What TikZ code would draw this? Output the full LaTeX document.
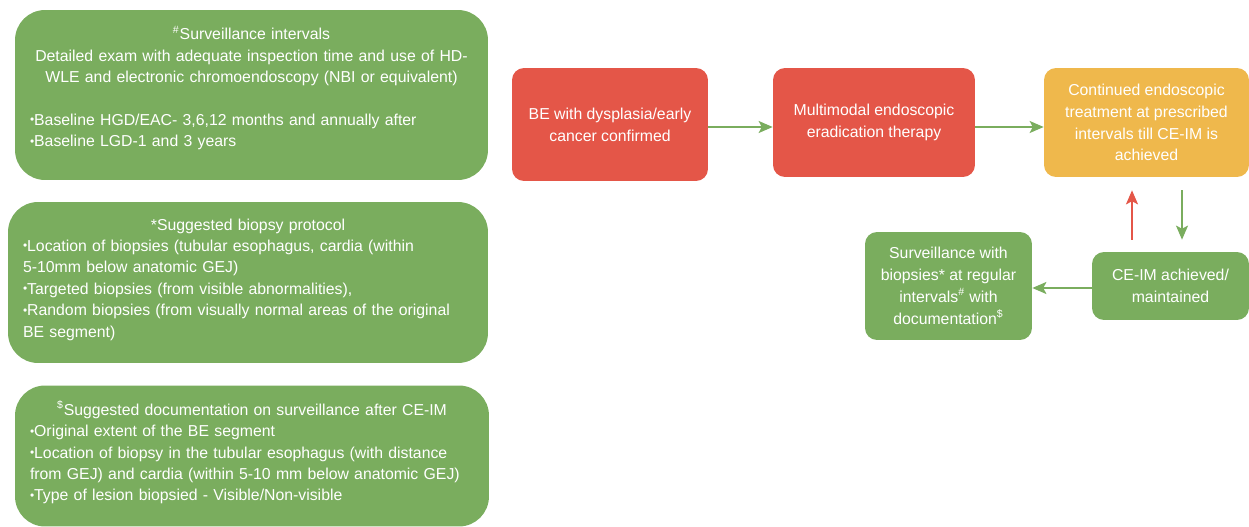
\documentclass[tikz,border=0pt]{standalone}
\usepackage{fontspec}
\setmainfont{Liberation Sans}
\usetikzlibrary{arrows.meta,positioning}

\definecolor{bered}{RGB}{228,86,72}
\definecolor{beyellow}{RGB}{239,184,76}
\definecolor{begreen}{RGB}{122,173,94}

\newcommand\bul{\raisebox{0.2ex}{\scalebox{0.75}{•}}}
\newcommand\lline[1]{\makebox[\hsize][l]{#1}}

\tikzset{
  box/.style={rounded corners=0.24cm, text=white, align=center,
    font=\fontsize{9}{12.4}\selectfont},
  redbox/.style={box, fill=bered},
  yellowbox/.style={box, fill=beyellow},
  greenbox/.style={box, fill=begreen},
  infobox/.style={rounded corners=0.6cm, fill=begreen},
  infotext/.style={text=white, align=center, inner sep=0pt,
    font=\fontsize{9}{12.2}\selectfont},
  flow/.style={draw=begreen, line width=0.8pt,
    -{Stealth[length=0.28cm,width=0.24cm,inset=0.06cm]}},
  back/.style={flow, draw=bered}
}

\begin{document}
\begin{tikzpicture}[x=0.02cm,y=-0.02cm]
\useasboundingbox (0,0) rectangle (1249,527);

% notes on the left
\node[infobox, minimum width=9.46cm, minimum height=3.4cm] (intervals) at (251.5,95) {};
\node[infotext, text width=8.86cm, yshift=0.14cm] (intervals-txt) at (intervals.center)
  {\textsuperscript{\#}Surveillance intervals\\
   Detailed exam with adequate inspection time and use of HD-\\
   WLE and electronic chromoendoscopy (NBI or equivalent)\\[12.2pt]
   \lline{\bul Baseline HGD/EAC- 3,6,12 months and annually after}\\
   \lline{\bul Baseline LGD-1 and 3 years}};

\node[infobox, minimum width=9.6cm, minimum height=3.22cm] (biopsy) at (248,282.5) {};
\node[infotext, text width=9cm, yshift=0.06cm] (biopsy-txt) at (biopsy.center)
  {*Suggested biopsy protocol\\
   \lline{\bul Location of biopsies (tubular esophagus, cardia (within}\\
   \lline{5-10mm below anatomic GEJ)}\\
   \lline{\bul Targeted biopsies (from visible abnormalities),}\\
   \lline{\bul Random biopsies (from visually normal areas of the original}\\
   \lline{BE segment)}};

\node[infobox, minimum width=9.48cm, minimum height=2.82cm] (docu) at (252,456) {};
\node[infotext, text width=8.88cm, yshift=0.07cm] (docu-txt) at (docu.center)
  {\textsuperscript{\$}Suggested documentation on surveillance after CE-IM\\
   \lline{\bul Original extent of the BE segment}\\
   \lline{\bul Location of biopsy in the tubular esophagus (with distance}\\
   \lline{from GEJ) and cardia (within 5-10 mm below anatomic GEJ)}\\
   \lline{\bul Type of lesion biopsied - Visible/Non-visible}};

% flow chart
\node[redbox, minimum width=3.92cm, minimum height=2.26cm] (confirmed) at (610,124.5)
  {BE with dysplasia/early\\ cancer confirmed};
\node[redbox, minimum width=4.04cm, minimum height=2.18cm] (therapy) at (874,122.5)
  {Multimodal endoscopic\\ eradication therapy};
\node[yellowbox, minimum width=4.1cm, minimum height=2.18cm] (continued) at (1146.5,122.5)
  {Continued endoscopic\\ treatment at prescribed\\ intervals till CE-IM is\\ achieved};
\node[greenbox, minimum width=3.14cm, minimum height=1.36cm] (ceim) at (1170.5,286)
  {CE-IM achieved/\\ maintained};
\node[greenbox, minimum width=3.34cm, minimum height=2.16cm] (surv) at (948.5,286)
  {Surveillance with\\ biopsies* at regular\\ intervals\textsuperscript{\#} with\\ documentation\textsuperscript{\$}};

\draw[flow] (confirmed.east |- 0,127) -- (therapy.west |- 0,127);
\draw[flow] (therapy.east |- 0,127) -- (continued.west |- 0,127);
\draw[flow, shorten <=0.26cm, shorten >=0.24cm] (continued.south -| 1182,0) -- (ceim.north -| 1182,0);
\draw[back, shorten <=0.24cm, shorten >=0.26cm] (ceim.north -| 1132,0) -- (continued.south -| 1132,0);
\draw[flow] (ceim.west |- 0,288) -- (surv.east |- 0,288);
\end{tikzpicture}
\end{document}
